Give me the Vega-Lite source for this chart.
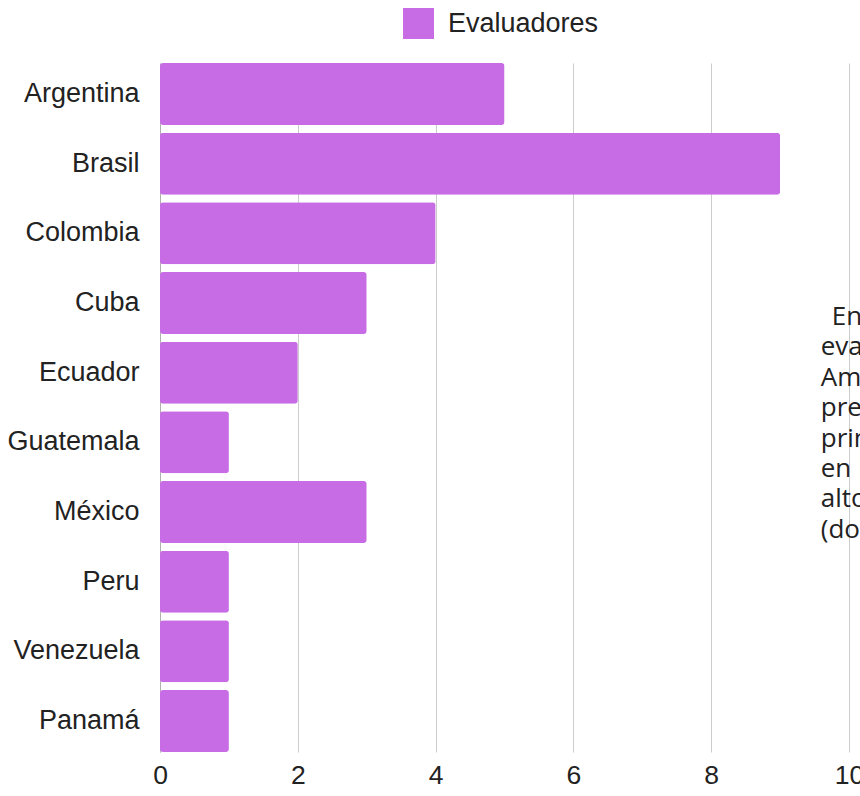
{
  "$schema": "https://vega.github.io/schema/vega-lite/v6.json",
  "width": 689,
  "height": 689,
  "autosize": {"type": "none"},
  "padding": {"left": 160, "top": 63, "right": 11, "bottom": 44},
  "background": "white",
  "config": {"view": {"stroke": null}, "font": "Liberation Sans"},
  "layer": [
    {
      "data": {
        "values": [
          {"pais": "Argentina", "evaluadores": 5},
          {"pais": "Brasil", "evaluadores": 9},
          {"pais": "Colombia", "evaluadores": 4},
          {"pais": "Cuba", "evaluadores": 3},
          {"pais": "Ecuador", "evaluadores": 2},
          {"pais": "Guatemala", "evaluadores": 1},
          {"pais": "México", "evaluadores": 3},
          {"pais": "Peru", "evaluadores": 1},
          {"pais": "Venezuela", "evaluadores": 1},
          {"pais": "Panamá", "evaluadores": 1}
        ]
      },
      "mark": {"type": "bar", "cornerRadius": 3},
      "encoding": {
        "y": {
          "field": "pais",
          "type": "nominal",
          "sort": null,
          "scale": {"paddingInner": 0.11, "paddingOuter": 0},
          "axis": {
            "title": null,
            "ticks": false,
            "labelFontSize": 27,
            "labelColor": "#222222",
            "labelPadding": 21,
            "labelLimit": 300,
            "domainColor": "#b0b0b0",
            "labelFont": "Liberation Sans"
          }
        },
        "x": {
          "field": "evaluadores",
          "type": "quantitative",
          "scale": {"domain": [0, 10], "nice": false},
          "axis": {
            "title": null,
            "values": [0, 2, 4, 6, 8, 10],
            "format": "d",
            "domain": false,
            "ticks": false,
            "gridColor": "#cccccc",
            "labelFontSize": 26.5,
            "labelColor": "#222222",
            "labelPadding": 10,
            "labelFlush": false,
            "labelFont": "Liberation Sans"
          }
        },
        "color": {
          "datum": "Evaluadores",
          "type": "nominal",
          "scale": {"range": ["#C86CE6"]},
          "legend": {
            "title": null,
            "orient": "none",
            "legendX": 243,
            "legendY": -55,
            "symbolType": "square",
            "symbolSize": 961,
            "symbolStrokeWidth": 0,
            "labelFontSize": 27,
            "labelColor": "#222222",
            "labelOffset": 14,
            "labelFont": "Liberation Sans",
            "padding": 0
          }
        }
      }
    },
    {
      "data": {"values": [{"nota": "En total participaron"}]},
      "mark": {
        "type": "text",
        "align": "left",
        "baseline": "top",
        "font": "Open Sans",
        "fontSize": 26,
        "dx": 11,
        "dy": 1,
        "color": "#222222"
      },
      "encoding": {
        "x": {"datum": 9.59, "type": "quantitative"},
        "y": {"datum": "Cuba", "type": "nominal"},
        "text": {"field": "nota", "type": "nominal"}
      }
    },
    {
      "data": {
        "values": [
          {"nota": "evaluadores de\nAmérica Latina,\npresentes\nprincipalmente\nen Brasil, con el más\nalto número\n(doce países)"}
        ]
      },
      "mark": {
        "type": "text",
        "align": "left",
        "baseline": "top",
        "font": "Open Sans",
        "fontSize": 26,
        "lineHeight": 30.4,
        "lineBreak": "\n",
        "dy": 31.4,
        "color": "#222222"
      },
      "encoding": {
        "x": {"datum": 9.59, "type": "quantitative"},
        "y": {"datum": "Cuba", "type": "nominal"},
        "text": {"field": "nota", "type": "nominal"}
      }
    }
  ]
}
